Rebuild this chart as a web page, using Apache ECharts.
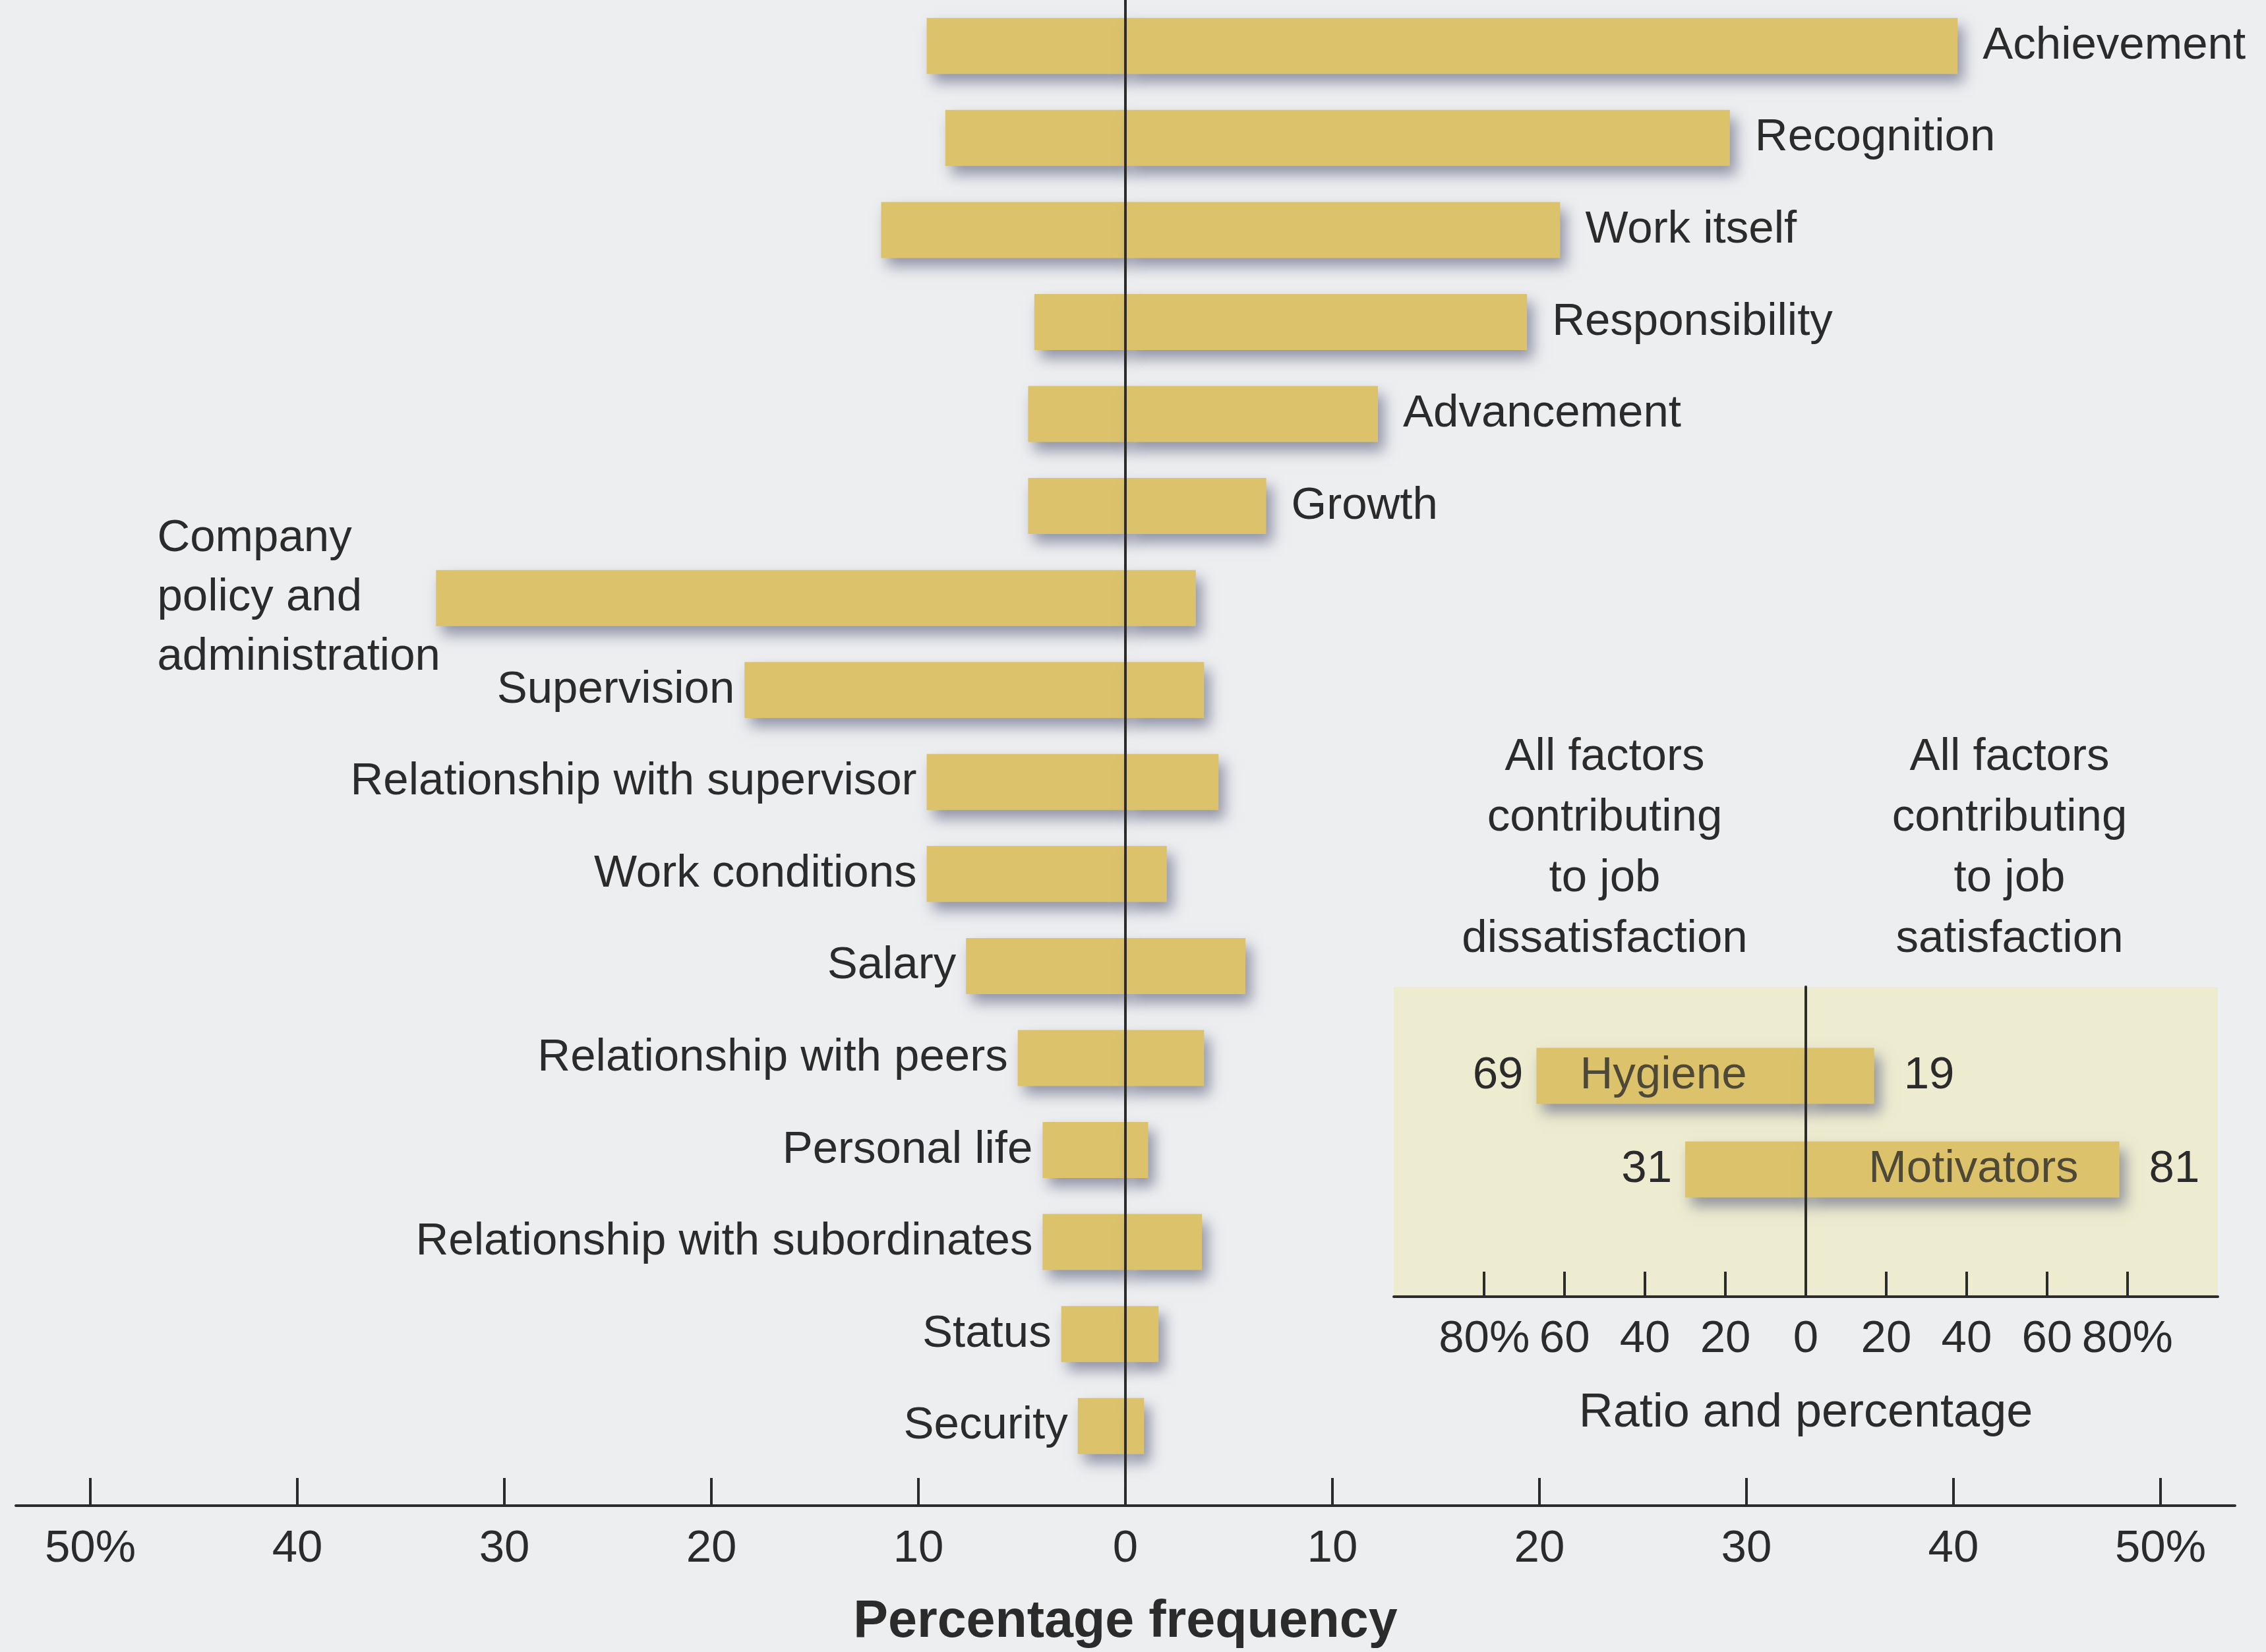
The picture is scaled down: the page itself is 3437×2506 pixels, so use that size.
<!DOCTYPE html>
<html>
<head>
<meta charset="utf-8">
<script src="https://cdn.jsdelivr.net/npm/echarts@6/dist/echarts.min.js"></script>
<style>
html,body{margin:0;padding:0;background:#EDEEF0;}
#chart{width:3437px;height:2506px;}
</style>
</head>
<body>
<div id="chart"></div>
<script>
// ---- Main chart data (percentage frequency) ----
const categories = ['Achievement','Recognition','Work itself','Responsibility','Advancement','Growth',
  'Company\npolicy and\nadministration','Supervision','Relationship with supervisor','Work conditions',
  'Salary','Relationship with peers','Personal life','Relationship with subordinates','Status','Security'];
const factorType = ['motivator','motivator','motivator','motivator','motivator','motivator',
  'hygiene','hygiene','hygiene','hygiene','hygiene','hygiene','hygiene','hygiene','hygiene','hygiene'];
const dissatisfaction = [9.6, 8.7, 11.8, 4.4, 4.7, 4.7, 33.3, 18.4, 9.6, 9.6, 7.7, 5.2, 4.0, 4.0, 3.1, 2.3];
const satisfaction    = [40.2, 29.2, 21.0, 19.4, 12.2, 6.8, 3.4, 3.8, 4.5, 2.0, 5.8, 3.8, 1.1, 3.7, 1.6, 0.9];
const mainTicks = [-50,-40,-30,-20,-10,10,20,30,40,50];
const mainTickLabels = [-50,-40,-30,-20,-10,0,10,20,30,40,50];

// ---- Inset data (ratio and percentage) ----
const insetCategories = ['Hygiene','Motivators'];
const insetDissatisfaction = [67, 30];   // drawn bar extents
const insetSatisfaction = [17, 78];
const insetDisPrinted = ['69','31'];     // printed figures
const insetSatPrinted = ['19','81'];
const insetTicks = [-80,-60,-40,-20,20,40,60,80];
const insetTickLabels = [-80,-60,-40,-20,0,20,40,60,80];

const FONT = 'Liberation Sans';
const FS = 69;
const TXT = '#2b2b2b';
const BAR = '#DCC36B';
const barStyle = {color: BAR, shadowBlur: 20, shadowColor: 'rgba(105,110,135,0.7)', shadowOffsetX: 9, shadowOffsetY: 13};

function catLabel(i){
  const t = categories[i];
  if (t.indexOf('\n') >= 0) return t.split('\n').map(s => '{w|' + s + '}').join('\n');
  return t;
}

const disData = dissatisfaction.map((v,i) => ({value: -v, label: {show: factorType[i] === 'hygiene'}}));
const satData = satisfaction.map((v,i) => ({value: v, label: {show: factorType[i] === 'motivator'}}));

const chart = echarts.init(document.getElementById('chart'));
chart.setOption({
  animation: false,
  backgroundColor: '#EDEEF0',
  textStyle: {fontFamily: FONT},
  title: [
    {text: 'All factors\ncontributing\nto job\ndissatisfaction', left: 2434, top: 1103, textAlign: 'center', padding: 0,
     textStyle: {fontFamily: FONT, fontSize: FS, fontWeight: 'normal', lineHeight: 92, color: TXT}},
    {text: 'All factors\ncontributing\nto job\nsatisfaction', left: 3048, top: 1103, textAlign: 'center', padding: 0,
     textStyle: {fontFamily: FONT, fontSize: FS, fontWeight: 'normal', lineHeight: 92, color: TXT}}
  ],
  grid: [
    {left: 24, width: 3366, top: 0, height: 2288},
    {left: 24, width: 3366, top: -15, height: 2248},
    {left: 2114, width: 1250, top: 1497, height: 470, show: true, backgroundColor: '#EEECD0', borderWidth: 0},
    {left: 2114, width: 1250, top: 1561, height: 284}
  ],
  xAxis: [
    {gridIndex: 0, type: 'value', min: -53.6, max: 53.6,
     axisLine: {lineStyle: {color: TXT, width: 4}},
     axisTick: {inside: true, length: 42, lineStyle: {color: TXT, width: 4}, customValues: mainTicks},
     axisLabel: {customValues: mainTickLabels, fontSize: FS, margin: 31, color: TXT, fontFamily: FONT,
       formatter: v => Math.abs(v) === 50 ? '50%' : String(Math.abs(v))},
     splitLine: {show: false},
     name: 'Percentage frequency', nameLocation: 'middle', nameGap: 138,
     nameTextStyle: {fontSize: 79, fontWeight: 'bold', color: TXT, fontFamily: FONT}},
    {gridIndex: 1, type: 'value', min: -53.6, max: 53.6, show: false, splitLine: {show: false}},
    {gridIndex: 2, type: 'value', min: -102.5, max: 102.5,
     axisLine: {lineStyle: {color: TXT, width: 4}},
     axisTick: {inside: true, length: 38, lineStyle: {color: TXT, width: 4}, customValues: insetTicks},
     axisLabel: {customValues: insetTickLabels, fontSize: FS, margin: 30, color: TXT, fontFamily: FONT,
       formatter: v => Math.abs(v) === 80 ? '80%' : String(Math.abs(v))},
     splitLine: {show: false},
     name: 'Ratio and percentage', nameLocation: 'middle', nameGap: 141,
     nameTextStyle: {fontSize: 72, color: TXT, fontFamily: FONT}},
    {gridIndex: 3, type: 'value', min: -102.5, max: 102.5, show: false, splitLine: {show: false}}
  ],
  yAxis: [
    {gridIndex: 0, type: 'value', min: 0, max: 1, z: 10,
     axisLine: {show: true, onZero: true, lineStyle: {color: TXT, width: 4}},
     axisTick: {show: false}, axisLabel: {show: false}, splitLine: {show: false}},
    {gridIndex: 1, type: 'category', inverse: true, data: categories, show: false},
    {gridIndex: 2, type: 'value', min: 0, max: 1, z: 10,
     axisLine: {show: true, onZero: true, lineStyle: {color: TXT, width: 4}},
     axisTick: {show: false}, axisLabel: {show: false}, splitLine: {show: false}},
    {gridIndex: 3, type: 'category', inverse: true, data: insetCategories, show: false}
  ],
  series: [
    {type: 'bar', name: 'Dissatisfaction', xAxisIndex: 1, yAxisIndex: 1, stack: 'main', barWidth: 85,
     itemStyle: barStyle, data: disData,
     label: {position: 'left', distance: 15, fontSize: FS, color: TXT, fontFamily: FONT, lineHeight: 90,
       formatter: p => catLabel(p.dataIndex),
       rich: {w: {width: 408, align: 'left', fontSize: FS, lineHeight: 90, color: TXT, fontFamily: FONT}}}},
    {type: 'bar', name: 'Satisfaction', xAxisIndex: 1, yAxisIndex: 1, stack: 'main', barWidth: 85,
     itemStyle: barStyle, data: satData,
     label: {position: 'right', distance: 38, fontSize: FS, color: TXT, fontFamily: FONT,
       formatter: p => catLabel(p.dataIndex)}},
    {type: 'bar', xAxisIndex: 3, yAxisIndex: 3, stack: 'inset', barWidth: 85, itemStyle: barStyle,
     data: insetDissatisfaction.map(v => -v),
     label: {show: true, position: 'left', distance: 20, fontSize: FS, color: TXT, fontFamily: FONT,
       formatter: p => insetDisPrinted[p.dataIndex]}},
    {type: 'bar', xAxisIndex: 3, yAxisIndex: 3, stack: 'inset', barWidth: 85, itemStyle: barStyle,
     data: insetSatisfaction,
     label: {show: true, position: 'right', distance: 45, fontSize: FS, color: TXT, fontFamily: FONT,
       formatter: p => insetSatPrinted[p.dataIndex]}},
    {type: 'scatter', xAxisIndex: 3, yAxisIndex: 3, symbolSize: 0, z: 5,
     data: [
       {value: [-insetDissatisfaction[0], 0], label: {show: true, position: 'right', distance: 66}},
       {value: [insetSatisfaction[1], 1], label: {show: true, position: 'left', distance: 62}}
     ],
     label: {fontSize: FS, color: TXT, fontFamily: FONT, formatter: p => insetCategories[p.dataIndex]}}
  ]
});
</script>
</body>
</html>
